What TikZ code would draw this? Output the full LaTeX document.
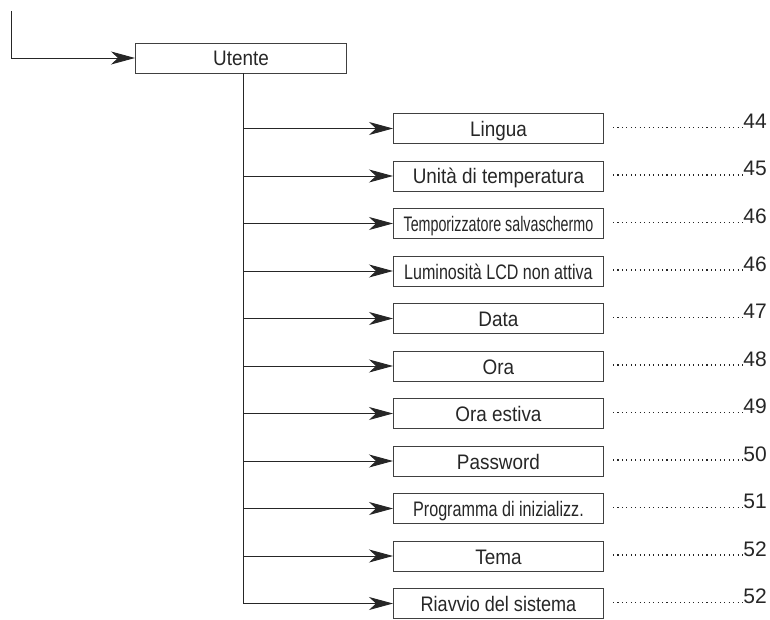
\documentclass[tikz,border=0pt]{standalone}
\usepackage{fontspec}
\setmainfont{Liberation Sans}
\usetikzlibrary{arrows.meta}
\begin{document}
\begin{tikzpicture}[x=1pt,y=-1pt,
  every node/.style={font=\fontsize{21}{25}\selectfont, text=black!85},
  box/.style={draw=black!75, line width=0.9pt, minimum width=210pt, minimum height=30pt, inner sep=0pt, anchor=west, text height=16pt, text depth=0pt},
  conn/.style={draw=black!85, line width=0.9pt},
  arr/.style={conn, -{Stealth[length=24pt,width=13pt,inset=7pt]}},
  leader/.style={draw=black!85, line width=1.3pt, dash pattern=on 1.1pt off 3.35pt},
  pg/.style={anchor=base east, inner sep=0pt}]
\useasboundingbox (0,0) rectangle (770,620);
\coordinate (start) at (11.5,11);
\node[box, minimum width=211pt] (utente) at (135,58) {\scalebox{0.9}[1]{Utente}};
\draw[arr] (start) |- (utente.west);
\coordinate (trunktop) at (243,73);
\foreach \i/\t/\p/\s in {
  0/{Lingua}/44/0.9,
  1/{Unità di temperatura}/45/0.9,
  2/{Temporizzatore salvaschermo}/46/0.68,
  3/{Luminosità LCD non attiva}/46/0.765,
  4/{Data}/47/0.9,
  5/{Ora}/48/0.9,
  6/{Ora estiva}/49/0.9,
  7/{Password}/50/0.9,
  8/{Programma di inizializz.}/51/0.77,
  9/{Tema}/52/0.9,
  10/{Riavvio del sistema}/52/0.86}{
  \node[box] (b\i) at (393,128.5+47.5*\i) {\scalebox{\s}[1]{\t}};
  \coordinate (j\i) at (243,128.5+47.5*\i);
  \draw[arr] (j\i) -- (b\i.west);
  \node[pg] (p\i) at (767,128.5+47.5*\i) {\p};
  \coordinate (d\i) at (613,127.5+47.5*\i);
  \draw[leader] (d\i) -- ([xshift=-1pt]p\i.base west |- d\i);
}
\draw[conn] (utente.south -| trunktop) -- (j10);
\end{tikzpicture}
\end{document}
